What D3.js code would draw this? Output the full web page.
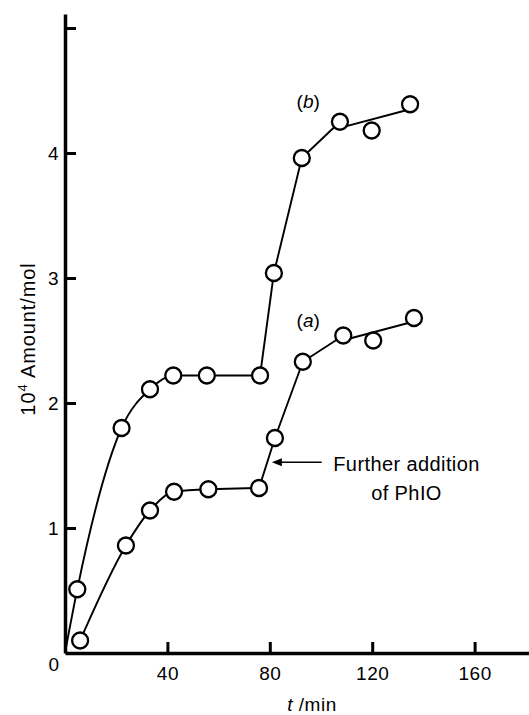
<!DOCTYPE html>
<html>
<head>
<meta charset="utf-8">
<script src="https://cdn.jsdelivr.net/npm/d3@7"></script>
<style>
  html, body { margin: 0; padding: 0; background: #fff; }
  svg { display: block; }
  text { font-family: "Liberation Sans", Arial, Helvetica, sans-serif; fill: #000; }
</style>
</head>
<body>
<svg id="chart" width="529" height="715"></svg>
<script>
// ---- data ----
const tB    = [4.8, 22.1, 33.2, 42.3, 55.4, 76.2, 81.6, 92.5, 107.4, 119.8, 134.8];
const valsB = [0.51, 1.80, 2.11, 2.22, 2.22, 2.22, 3.04, 3.96, 4.25, 4.18, 4.39];
const tA    = [5.9, 23.8, 33.2, 42.6, 56.0, 75.8, 82.0, 92.9, 108.7, 120.4, 136.3];
const valsA = [0.10, 0.86, 1.14, 1.29, 1.31, 1.32, 1.72, 2.33, 2.54, 2.50, 2.68];
const xTicks = [40, 80, 120, 160];
const yTicks = [1, 2, 3, 4, 5];
const yTickLabels = ["1", "2", "3", "4", ""];
const seriesLabels = ["(a)", "(b)"];
const annotationLines = ["Further addition", "of PhIO"];

// ---- layout ----
const svg = d3.select("#chart");
const x = d3.scaleLinear().domain([0, (529 - 65) / 2.56]).range([65, 529]);
const y = d3.scaleLinear().domain([0, (653 - 14) / 125]).range([653, 14]);

// axes
const xAxis = d3.axisBottom(x).tickValues(xTicks).tickSize(-11).tickSizeOuter(0).tickPadding(14);
const yAxis = d3.axisLeft(y).tickValues(yTicks).tickSize(-11).tickSizeOuter(0).tickPadding(6)
  .tickFormat((d, i) => yTickLabels[i]);

const gx = svg.append("g").attr("transform", `translate(0,${y(0)})`).call(xAxis);
const gy = svg.append("g").attr("transform", `translate(${x(0)},0)`).call(yAxis);
[gx, gy].forEach(g => {
  g.select(".domain").attr("stroke", "#000").attr("stroke-width", 3.5);
  g.selectAll(".tick line").attr("stroke", "#000").attr("stroke-width", 3);
  g.selectAll(".tick text").style("font-size", "19px").style("letter-spacing", "0.5px").attr("fill", "#000");
});

// origin "0" label
svg.append("text").attr("x", x(0) - 6).attr("y", y(0) + 18)
  .attr("text-anchor", "end").style("font-size", "19px").text("0");

// axis titles
const xt = svg.append("text").attr("x", 312).attr("y", 711)
  .attr("text-anchor", "middle").style("font-size", "19px").style("letter-spacing", "0.5px");
xt.append("tspan").style("font-style", "italic").text("t");
xt.append("tspan").text(" /min");

const yt = svg.append("text").attr("transform", "translate(35,339) rotate(-90)")
  .attr("text-anchor", "middle").style("font-size", "20px").style("letter-spacing", "0.9px");
yt.append("tspan").text("10");
yt.append("tspan").attr("dy", -8).style("font-size", "13px").text("4");
yt.append("tspan").attr("dy", 8).text(" Amount/mol");

// ---- series ----
function drawSeries(ts, vs, withOrigin) {
  const pts = ts.map((t, i) => [t, vs[i]]);
  const n = pts.length;
  const early = (withOrigin ? [[0, 0]] : []).concat(pts.slice(0, 5));
  const mid = pts.slice(4, n - 2);
  const lineC = d3.line().x(d => x(d[0])).y(d => y(d[1])).curve(d3.curveMonotoneX);
  const lineL = d3.line().x(d => x(d[0])).y(d => y(d[1]));
  const stroke = p => p.attr("fill", "none").attr("stroke", "#000").attr("stroke-width", 1.9);
  svg.append("path").attr("d", lineC(early)).call(stroke);
  svg.append("path").attr("d", lineL(mid)).call(stroke);
  // least-squares trend line through the last three points
  const tail = pts.slice(n - 3);
  const mt = d3.mean(tail, d => d[0]), mv = d3.mean(tail, d => d[1]);
  const slope = d3.sum(tail, d => (d[0] - mt) * (d[1] - mv)) / d3.sum(tail, d => (d[0] - mt) ** 2);
  const fit = [tail[0][0], tail[2][0]].map(t => [t, mv + slope * (t - mt)]);
  svg.append("path").attr("d", lineL(fit)).call(stroke);
  svg.append("g").selectAll("circle").data(pts).join("circle")
    .attr("cx", d => x(d[0])).attr("cy", d => y(d[1])).attr("r", 8)
    .attr("fill", "#fff").attr("stroke", "#000").attr("stroke-width", 2.3);
}
drawSeries(tB, valsB, true);
drawSeries(tA, valsA, false);

// series labels
function seriesLabel(txt, t, v) {
  const el = svg.append("text").attr("x", x(t)).attr("y", y(v))
    .attr("text-anchor", "middle").style("font-size", "19px");
  el.append("tspan").text("(");
  el.append("tspan").style("font-style", "italic").text(txt.slice(1, -1));
  el.append("tspan").text(")");
}
seriesLabel(seriesLabels[1], 95.0, 4.36);
seriesLabel(seriesLabels[0], 95.0, 2.61);

// annotation arrow
const tipT = 80.8, tailT = 100.3, arrV = 1.526;
svg.append("line").attr("x1", x(tailT)).attr("x2", x(tipT) + 8).attr("y1", y(arrV)).attr("y2", y(arrV))
  .attr("stroke", "#000").attr("stroke-width", 1.6);
svg.append("path")
  .attr("d", `M${x(tipT)},${y(arrV)} l10,-4 l0,8 z`)
  .attr("fill", "#000");
annotationLines.forEach((s, i) => {
  svg.append("text").attr("x", 406.5).attr("y", 471 + i * 29)
    .attr("text-anchor", "middle").style("font-size", "20px").style("letter-spacing", "0.4px").text(s);
});
</script>
</body>
</html>
